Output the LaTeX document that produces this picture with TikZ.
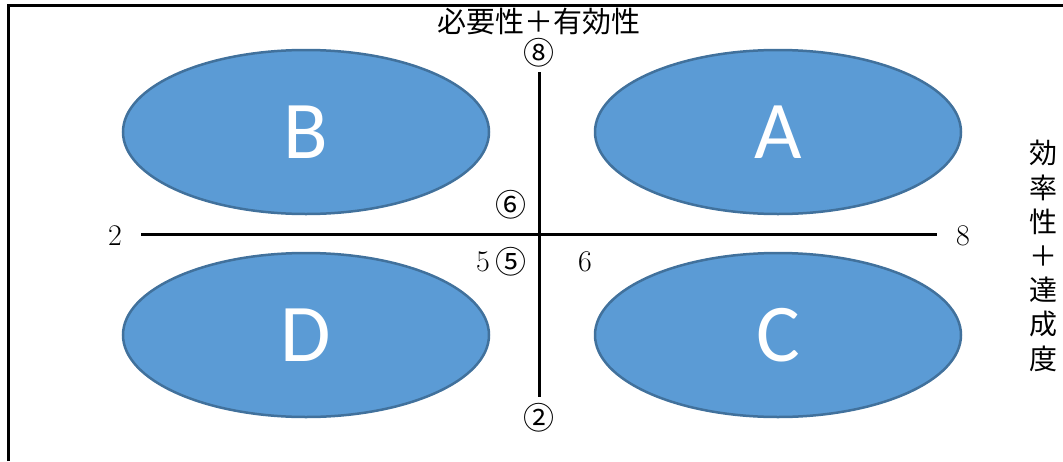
\documentclass[tikz,border=0pt]{standalone}
\usepackage{fontspec}
\usetikzlibrary{shapes.geometric}
\newfontfamily\jpfont{Noto Sans CJK JP}
\newfontfamily\latfont{Carlito}
\definecolor{efill}{HTML}{5B9BD5}
\definecolor{edraw}{HTML}{41719C}
\begin{document}
\begin{tikzpicture}[x=1pt,y=-1pt,
 quad/.style={ellipse,draw=edraw,line width=2.5pt,fill=efill,minimum width=366pt,minimum height=164pt,inner sep=0pt,text=white,font=\latfont\fontsize{82}{82}\selectfont},
 axisline/.style={line width=3pt},
 num/.style={font=\fontsize{30}{30}\selectfont,inner sep=0pt},
 circ/.style={font=\jpfont\fontsize{31}{31}\selectfont,inner sep=0pt},
 jtxt/.style={font=\jpfont\fontsize{29}{29}\selectfont,inner sep=0pt}]
\useasboundingbox (0,0) rectangle (1063,461);
\draw[line width=3pt] (8,461) -- (8,5) -- (1063,5);
\node[quad] (B) at (306,132) {B};
\node[quad] (A) at (778,132) {A};
\node[quad] (D) at (306,335) {D};
\node[quad] (C) at (778,335) {C};
\coordinate (hl) at (141,234);
\coordinate (hr) at (937,234);
\coordinate (vt) at (539,72);
\coordinate (vb) at (539,397);
\draw[axisline] (hl) -- (hr);
\draw[axisline] (vt) -- (vb);
\node[num] (n2) at (115,236) {2};
\node[num] (n8) at (963,236) {8};
\node[num] (n5) at (483,262) {5};
\node[num] (n6) at (585,262) {6};
\node[circ] (c8) at (539,53) {⑧};
\node[circ] (c2) at (539,418) {②};
\node[circ] (c6) at (511,205) {⑥};
\node[circ] (c5) at (511,262) {⑤};
\node[jtxt] (top) at (539,22) {必要性＋有効性};
\node[jtxt,align=center,font=\jpfont\fontsize{28}{34.2}\selectfont] (right) at (1043,256) {効\\率\\性\\＋\\達\\成\\度};
\end{tikzpicture}
\end{document}
